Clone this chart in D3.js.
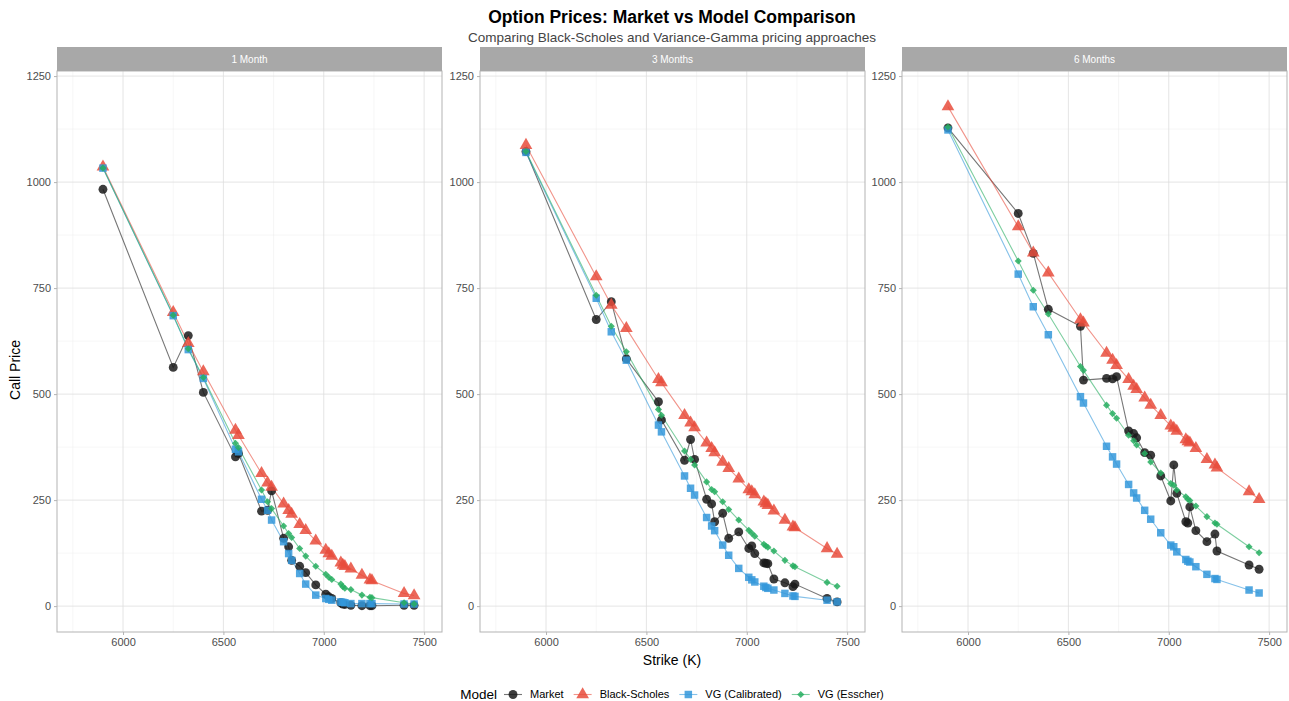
<!DOCTYPE html>
<html>
<head>
<meta charset="utf-8">
<script src="https://cdnjs.cloudflare.com/ajax/libs/d3/7.8.5/d3.min.js"></script>
<style>
  body { margin: 0; background: #fff; }
  svg { font-family: "Liberation Sans", Arial, sans-serif; }
</style>
</head>
<body>
<div id="chart"></div>
<script>
var strikes = [5900, 6250, 6325, 6400, 6560, 6575, 6690, 6720, 6740, 6800, 6825, 6840, 6880, 6910, 6960, 7010, 7025, 7040, 7085, 7095, 7105, 7135, 7190, 7230, 7240, 7400, 7450];

var panels = ["1 Month", "3 Months", "6 Months"];
var models = ["Market", "Black-Scholes", "VG (Calibrated)", "VG (Esscher)"];

// 1 month
var mkt1m = [983, 563, 638, 504, 352, 360, 224, 226, 272, 160, 140, 108, 94, 79, 50, 28, 22, 18, 8, 5, 4, 2, 1, 1, 1, 2, 2];
var bs1m  = [1036, 693, 620, 553, 415, 403, 313, 291, 281, 241, 226, 217, 193, 179, 154, 132, 124, 118, 102, 97, 94, 88, 73, 62, 60, 30, 25];
var vgc1m = [1033, 685, 605, 537, 370, 364, 252, 226, 203, 152, 124, 108, 77, 52, 26, 18, 16, 14, 10, 9, 8, 6, 6, 6, 6, 5, 5];
var vge1m = [1033, 686, 607, 539, 384, 374, 274, 246, 230, 189, 171, 162, 136, 118, 94, 75, 68, 63, 52, 46, 42, 39, 26, 21, 20, 8, 5];

// 3 months
var mkt3m = [1072, 676, 718, 583, 482, 439, 344, 393, 346, 252, 241, 199, 219, 160, 175, 136, 142, 124, 102, 101, 100, 64, 55, 46, 52, 18, 10];
var bs3m  = [1087, 777, 710, 655, 535, 527, 450, 432, 421, 385, 372, 362, 340, 325, 300, 275, 270, 263, 246, 242, 238, 225, 203, 187, 185, 136, 123];
var vgc3m = [1070, 726, 647, 580, 427, 411, 307, 278, 262, 209, 189, 178, 144, 120, 89, 68, 62, 57, 47, 44, 42, 38, 30, 24, 23, 14, 10];
var vge3m = [1072, 733, 660, 600, 464, 450, 366, 346, 333, 293, 275, 270, 246, 228, 203, 179, 172, 165, 146, 142, 139, 130, 108, 95, 93, 56, 47];

// 6 months
var mkt6m = [1128, 926, 832, 700, 660, 533, 537, 536, 541, 413, 407, 397, 362, 356, 307, 248, 333, 266, 199, 196, 234, 178, 152, 170, 130, 97, 87];
var bs6m  = [1178, 895, 833, 786, 676, 668, 597, 580, 568, 535, 519, 511, 491, 474, 450, 425, 420, 413, 393, 388, 385, 372, 346, 333, 326, 270, 252];
var vgc6m = [1123, 783, 706, 640, 494, 479, 377, 352, 335, 287, 267, 255, 226, 205, 173, 144, 140, 128, 110, 106, 104, 93, 75, 65, 63, 38, 31];
var vge6m = [1130, 814, 745, 689, 565, 556, 474, 454, 443, 403, 390, 380, 360, 340, 314, 289, 285, 274, 258, 252, 249, 236, 211, 196, 193, 140, 126];

var xTicks = [6000, 6500, 7000, 7500];
var xMinor = [5750, 6250, 6750, 7250];
var yTicks = [0, 250, 500, 750, 1000, 1250];
var yMinor = [125, 375, 625, 875, 1125];

var series = [
  [mkt1m, bs1m, vgc1m, vge1m],
  [mkt3m, bs3m, vgc3m, vge3m],
  [mkt6m, bs6m, vgc6m, vge6m]
];

var colors = ["#1a1a1a", "#E74C3C", "#3498DB", "#27AE60"];
var diamond = d3.symbolDiamond2 || d3.symbolDiamond;
var shapes = [d3.symbolCircle, d3.symbolTriangle, d3.symbolSquare, diamond];
var sizes = [62, 70, 56, 32];

var W = 1289, H = 701;
var panelX = [57, 480, 902];
var pw = 385, pTop = 71, pBottom = 632, ph = pBottom - pTop;

var svg = d3.select("#chart").append("svg").attr("width", W).attr("height", H);

var x = d3.scaleLinear().domain([5671, 7589]).range([0, pw]);
var y = d3.scaleLinear().domain([-61, 1262]).range([ph, 0]);

svg.append("text").attr("x", 672).attr("y", 23).attr("text-anchor", "middle")
  .attr("font-size", "17.5px").attr("font-weight", "bold").attr("fill", "#000")
  .text("Option Prices: Market vs Model Comparison");
svg.append("text").attr("x", 672).attr("y", 42).attr("text-anchor", "middle")
  .attr("font-size", "13.5px").attr("fill", "#444")
  .text("Comparing Black-Scholes and Variance-Gamma pricing approaches");

panels.forEach(function (name, p) {
  var g = svg.append("g").attr("transform", "translate(" + panelX[p] + "," + pTop + ")");

  // strip
  svg.append("rect").attr("x", panelX[p]).attr("y", 47).attr("width", pw).attr("height", pTop - 47)
    .attr("fill", "#A8A8A8");
  svg.append("text").attr("x", panelX[p] + pw / 2).attr("y", 63).attr("text-anchor", "middle")
    .attr("font-size", "10px").attr("fill", "#fff").text(name);

  // grid
  g.selectAll(".xminor").data(xMinor).enter().append("line")
    .attr("x1", x).attr("x2", x).attr("y1", 0).attr("y2", ph)
    .attr("stroke", "#ededed").attr("stroke-width", 0.5);
  g.selectAll(".yminor").data(yMinor).enter().append("line")
    .attr("x1", 0).attr("x2", pw).attr("y1", y).attr("y2", y)
    .attr("stroke", "#ededed").attr("stroke-width", 0.5);
  g.selectAll(".xmajor").data(xTicks).enter().append("line")
    .attr("x1", x).attr("x2", x).attr("y1", 0).attr("y2", ph)
    .attr("stroke", "#dedede").attr("stroke-width", 0.8);
  g.selectAll(".ymajor").data(yTicks).enter().append("line")
    .attr("x1", 0).attr("x2", pw).attr("y1", y).attr("y2", y)
    .attr("stroke", "#dedede").attr("stroke-width", 0.8);

  // axes
  var ax = g.append("g").attr("transform", "translate(0," + ph + ")")
    .call(d3.axisBottom(x).tickValues(xTicks).tickFormat(d3.format("d"))
      .tickSize(3).tickSizeOuter(0).tickPadding(3));
  var ay = g.append("g")
    .call(d3.axisLeft(y).tickValues(yTicks).tickFormat(d3.format("d"))
      .tickSize(3).tickSizeOuter(0).tickPadding(3));
  [ax, ay].forEach(function (a) {
    a.select(".domain").remove();
    a.selectAll(".tick line").attr("stroke", "#b3b3b3");
    a.selectAll(".tick text").attr("fill", "#4d4d4d").attr("font-size", "11px")
      .attr("font-family", "Liberation Sans, Arial, sans-serif");
  });

  g.append("rect").attr("width", pw).attr("height", ph)
    .attr("fill", "none").attr("stroke", "#b3b3b3").attr("stroke-width", 1);

  var line = d3.line().x(function (d) { return x(d[0]); }).y(function (d) { return y(d[1]); });

  series[p].forEach(function (vals, s) {
    var pts = strikes.map(function (k, i) { return [k, vals[i]]; });
    g.append("path").datum(pts).attr("d", line)
      .attr("fill", "none").attr("stroke", colors[s]).attr("stroke-width", 1.1)
      .attr("stroke-opacity", 0.6);
  });

  series[p].forEach(function (vals, s) {
    var pts = strikes.map(function (k, i) { return [k, vals[i]]; });
    g.selectAll(".pt" + s).data(pts).enter().append("path")
      .attr("d", d3.symbol().type(shapes[s]).size(sizes[s]))
      .attr("transform", function (d) { return "translate(" + x(d[0]) + "," + y(d[1]) + ")"; })
      .attr("fill", colors[s]).attr("fill-opacity", 0.85);
  });
});

// axis titles
svg.append("text").attr("x", 672).attr("y", 665).attr("text-anchor", "middle")
  .attr("font-size", "14px").attr("fill", "#000").text("Strike (K)");
svg.append("text").attr("transform", "translate(20,370) rotate(-90)").attr("text-anchor", "middle")
  .attr("font-size", "14px").attr("fill", "#000").text("Call Price");

// legend
var leg = svg.append("g");
var title = leg.append("text").attr("x", 0).attr("y", 699).attr("font-size", "13.5px")
  .attr("fill", "#000").text("Model");
var cx = title.node().getComputedTextLength() + 7;
models.forEach(function (m, s) {
  leg.append("line").attr("x1", cx).attr("x2", cx + 18).attr("y1", 694.5).attr("y2", 694.5)
    .attr("stroke", colors[s]).attr("stroke-opacity", 0.6).attr("stroke-width", 1.1);
  leg.append("path").attr("d", d3.symbol().type(shapes[s]).size(sizes[s]))
    .attr("transform", "translate(" + (cx + 9) + ",694.5)")
    .attr("fill", colors[s]).attr("fill-opacity", 0.85);
  var t = leg.append("text").attr("x", cx + 26).attr("y", 698).attr("font-size", "11px")
    .attr("fill", "#000").text(m);
  cx += 26 + t.node().getComputedTextLength() + 10;
});
var lw = cx - 10;
leg.attr("transform", "translate(" + (672 - lw / 2) + ",0)");
</script>
</body>
</html>
